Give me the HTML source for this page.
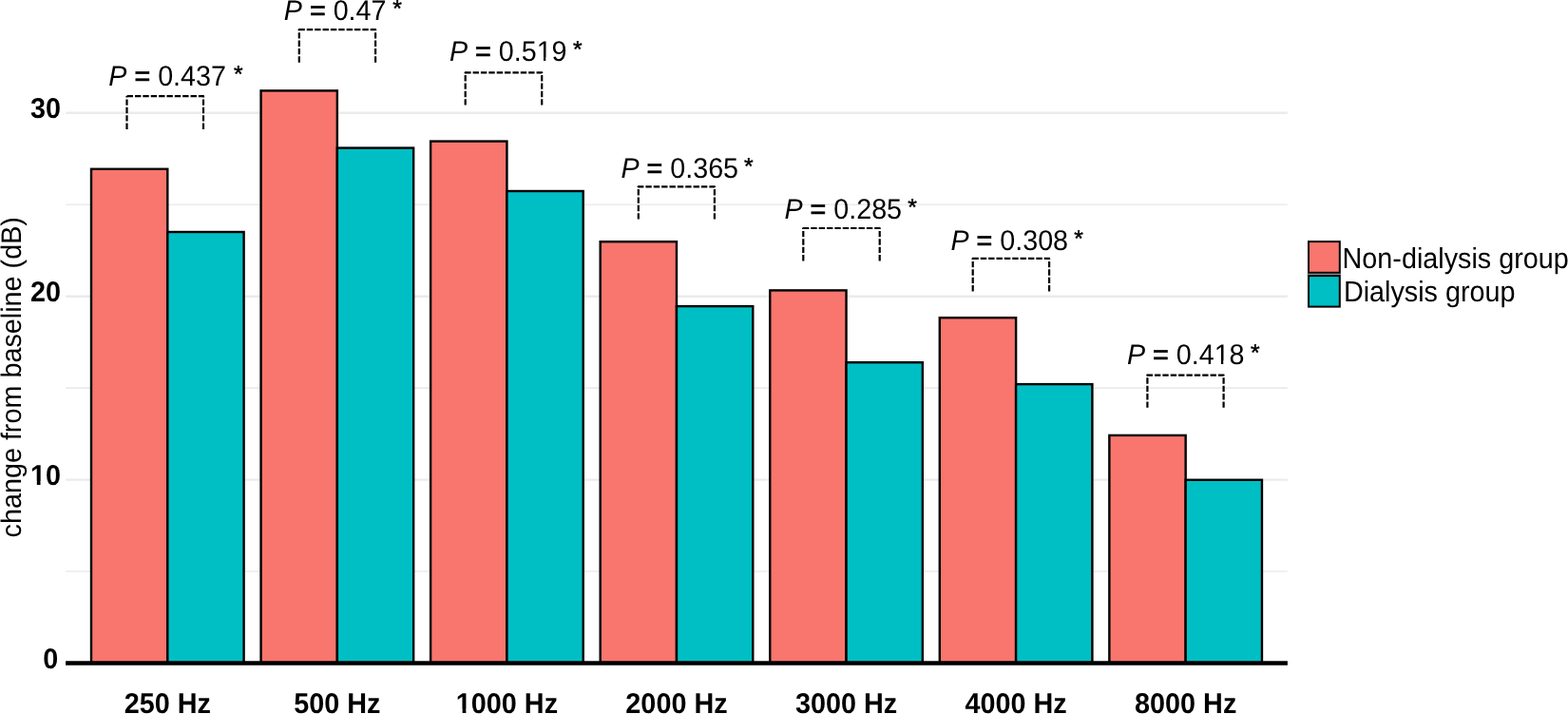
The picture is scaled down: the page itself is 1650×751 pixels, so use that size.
<!DOCTYPE html><html><head><meta charset="utf-8"><title>Hearing change bar chart</title><style>
html,body{margin:0;padding:0;background:#fff;width:1650px;height:751px;overflow:hidden}
svg{display:block}text{text-rendering:geometricPrecision;font-family:"Liberation Sans",Arial,Helvetica,sans-serif;fill:#000}
.tk{font-weight:bold;font-size:28.80px}.pl{font-size:28.7px}.lg{font-size:28.76px}.yt{font-size:28.78px}
</style></head><body>
<svg width="1650" height="751" viewBox="0 0 1650 751">
<rect width="1650" height="751" fill="#fff"/>
<line x1="69.2" x2="1354.8" y1="601.05" y2="601.05" stroke="#ebebeb" stroke-width="1.6"/>
<line x1="69.2" x2="1354.8" y1="408.15" y2="408.15" stroke="#ebebeb" stroke-width="1.6"/>
<line x1="69.2" x2="1354.8" y1="215.25" y2="215.25" stroke="#ebebeb" stroke-width="1.6"/>
<line x1="69.2" x2="1354.8" y1="504.60" y2="504.60" stroke="#ebebeb" stroke-width="2.4"/>
<line x1="69.2" x2="1354.8" y1="311.70" y2="311.70" stroke="#ebebeb" stroke-width="2.4"/>
<line x1="69.2" x2="1354.8" y1="118.80" y2="118.80" stroke="#ebebeb" stroke-width="2.4"/>
<rect x="96.00" y="177.80" width="80.30" height="519.70" fill="#F8766D" stroke="#000" stroke-width="2.4"/>
<rect x="176.30" y="244.00" width="80.30" height="453.50" fill="#00BFC4" stroke="#000" stroke-width="2.4"/>
<rect x="274.56" y="95.40" width="80.30" height="602.10" fill="#F8766D" stroke="#000" stroke-width="2.4"/>
<rect x="354.86" y="155.60" width="80.30" height="541.90" fill="#00BFC4" stroke="#000" stroke-width="2.4"/>
<rect x="453.12" y="148.60" width="80.30" height="548.90" fill="#F8766D" stroke="#000" stroke-width="2.4"/>
<rect x="533.42" y="201.00" width="80.30" height="496.50" fill="#00BFC4" stroke="#000" stroke-width="2.4"/>
<rect x="631.68" y="254.20" width="80.30" height="443.30" fill="#F8766D" stroke="#000" stroke-width="2.4"/>
<rect x="711.98" y="322.10" width="80.30" height="375.40" fill="#00BFC4" stroke="#000" stroke-width="2.4"/>
<rect x="810.24" y="305.40" width="80.30" height="392.10" fill="#F8766D" stroke="#000" stroke-width="2.4"/>
<rect x="890.54" y="381.20" width="80.30" height="316.30" fill="#00BFC4" stroke="#000" stroke-width="2.4"/>
<rect x="988.80" y="334.20" width="80.30" height="363.30" fill="#F8766D" stroke="#000" stroke-width="2.4"/>
<rect x="1069.10" y="404.10" width="80.30" height="293.40" fill="#00BFC4" stroke="#000" stroke-width="2.4"/>
<rect x="1167.36" y="457.90" width="80.30" height="239.60" fill="#F8766D" stroke="#000" stroke-width="2.4"/>
<rect x="1247.66" y="504.80" width="80.30" height="192.70" fill="#00BFC4" stroke="#000" stroke-width="2.4"/>
<path d="M214.0 135.9V101.1H133.5M133.5 135.9V101.1" fill="none" stroke="#000" stroke-width="2.2" stroke-linejoin="round" stroke-dasharray="6.40 1.97"/>
<path d="M395.1 65.7V31.2H314.8M314.8 65.7V31.2" fill="none" stroke="#000" stroke-width="2.2" stroke-linejoin="round" stroke-dasharray="6.40 1.97"/>
<circle cx="314.8" cy="31.2" r="1.1"/>
<path d="M570.2 110.6V76.4H489.7M489.7 110.6V76.4" fill="none" stroke="#000" stroke-width="2.2" stroke-linejoin="round" stroke-dasharray="6.40 1.97"/>
<circle cx="489.7" cy="76.4" r="1.1"/>
<path d="M751.9 230.6V196.3H671.8M671.8 230.6V196.3" fill="none" stroke="#000" stroke-width="2.2" stroke-linejoin="round" stroke-dasharray="6.40 1.97"/>
<circle cx="671.8" cy="196.3" r="1.1"/>
<path d="M925.7 274.4V240.0H845.3M845.3 274.4V240.0" fill="none" stroke="#000" stroke-width="2.2" stroke-linejoin="round" stroke-dasharray="6.40 1.97"/>
<circle cx="845.3" cy="240.0" r="1.1"/>
<path d="M1104.1 306.4V271.9H1023.7M1023.7 306.4V271.9" fill="none" stroke="#000" stroke-width="2.2" stroke-linejoin="round" stroke-dasharray="6.40 1.97"/>
<circle cx="1023.7" cy="271.9" r="1.1"/>
<path d="M1287.6 428.8V394.6H1207.4M1207.4 428.8V394.6" fill="none" stroke="#000" stroke-width="2.2" stroke-linejoin="round" stroke-dasharray="6.40 1.97"/>
<circle cx="1207.4" cy="394.6" r="1.1"/>
<text class="pl" transform="translate(114.3 89.9) scale(1 1.040)"><tspan font-style="italic">P</tspan> <tspan stroke="#000" stroke-width="0.7">=</tspan> 0.437</text>
<text class="pl" transform="translate(255.5 86.3) scale(0.860 0.850)" text-anchor="end" stroke="#000" stroke-width="0.6">*</text>
<text class="pl" transform="translate(298.8 21.0) scale(1 1.040)"><tspan font-style="italic">P</tspan> <tspan stroke="#000" stroke-width="0.7">=</tspan> 0.47</text>
<text class="pl" transform="translate(422.8 17.4) scale(0.860 0.850)" text-anchor="end" stroke="#000" stroke-width="0.6">*</text>
<g transform="translate(472.9 63.7) scale(1 1.040)"><text class="pl"><tspan font-style="italic">P</tspan> <tspan stroke="#000" stroke-width="0.7">=</tspan> 0.519</text><rect x="93.08" y="-3.13" width="5.97" height="4.03" fill="#fff"/><rect x="101.39" y="-3.13" width="5.75" height="4.03" fill="#fff"/></g>
<text class="pl" transform="translate(612.7 60.1) scale(0.860 0.850)" text-anchor="end" stroke="#000" stroke-width="0.6">*</text>
<text class="pl" transform="translate(653.4 187.0) scale(1 1.040)"><tspan font-style="italic">P</tspan> <tspan stroke="#000" stroke-width="0.7">=</tspan> 0.365</text>
<text class="pl" transform="translate(792.7 183.4) scale(0.860 0.850)" text-anchor="end" stroke="#000" stroke-width="0.6">*</text>
<text class="pl" transform="translate(825.4 229.9) scale(1 1.040)"><tspan font-style="italic">P</tspan> <tspan stroke="#000" stroke-width="0.7">=</tspan> 0.285</text>
<text class="pl" transform="translate(964.9 226.3) scale(0.860 0.850)" text-anchor="end" stroke="#000" stroke-width="0.6">*</text>
<text class="pl" transform="translate(1000.4 262.8) scale(1 1.040)"><tspan font-style="italic">P</tspan> <tspan stroke="#000" stroke-width="0.7">=</tspan> 0.308</text>
<text class="pl" transform="translate(1139.9 259.2) scale(0.860 0.850)" text-anchor="end" stroke="#000" stroke-width="0.6">*</text>
<g transform="translate(1185.9 382.6) scale(1 1.040)"><text class="pl"><tspan font-style="italic">P</tspan> <tspan stroke="#000" stroke-width="0.7">=</tspan> 0.418</text><rect x="93.08" y="-3.13" width="5.97" height="4.03" fill="#fff"/><rect x="101.39" y="-3.13" width="5.75" height="4.03" fill="#fff"/></g>
<text class="pl" transform="translate(1325.7 379.0) scale(0.860 0.850)" text-anchor="end" stroke="#000" stroke-width="0.6">*</text>
<line x1="69.1" x2="1354.9" y1="697.5" y2="697.5" stroke="#000" stroke-width="4.7"/>
<text class="tk" transform="translate(61.2 703.1) scale(1 1.042)" text-anchor="end">0</text>
<g transform="translate(64.0 510.2) scale(1 1.042)"><text class="tk" text-anchor="end">10</text><rect x="-31.06" y="-3.92" width="5.85" height="4.82" fill="#fff"/><rect x="-21.46" y="-3.92" width="5.48" height="4.82" fill="#fff"/></g>
<text class="tk" transform="translate(64.0 317.3) scale(1 1.042)" text-anchor="end">20</text>
<text class="tk" transform="translate(64.0 124.4) scale(1 1.042)" text-anchor="end">30</text>
<text class="tk" transform="translate(176.30 750.2) scale(1 1.042)" text-anchor="middle">250 Hz</text>
<text class="tk" transform="translate(354.86 750.2) scale(1 1.042)" text-anchor="middle">500 Hz</text>
<g transform="translate(533.42 750.2) scale(1 1.042)"><text class="tk" text-anchor="middle">1000 Hz</text><rect x="-52.66" y="-3.92" width="5.85" height="4.82" fill="#fff"/><rect x="-43.06" y="-3.92" width="5.48" height="4.82" fill="#fff"/></g>
<text class="tk" transform="translate(711.98 750.2) scale(1 1.042)" text-anchor="middle">2000 Hz</text>
<text class="tk" transform="translate(890.54 750.2) scale(1 1.042)" text-anchor="middle">3000 Hz</text>
<text class="tk" transform="translate(1069.10 750.2) scale(1 1.042)" text-anchor="middle">4000 Hz</text>
<text class="tk" transform="translate(1247.66 750.2) scale(1 1.042)" text-anchor="middle">8000 Hz</text>
<text class="yt" transform="translate(21.8 396.8) rotate(-90) scale(1 1.03)" text-anchor="middle">change from baseline (dB)</text>
<rect x="1375.6" y="287.6" width="35.4" height="1.8" fill="#8c8c8c"/>
<rect x="1377" y="254.1" width="32.8" height="32.7" fill="#F8766D" stroke="#000" stroke-width="2"/>
<rect x="1377" y="290.1" width="32.8" height="32.5" fill="#00BFC4" stroke="#000" stroke-width="2"/>
<text class="lg" transform="translate(1412.6 282.0) scale(1 1.06)">Non-dialysis group</text>
<text class="lg" transform="translate(1413.9 316.9) scale(1 1.06)">Dialysis group</text>
</svg></body></html>
